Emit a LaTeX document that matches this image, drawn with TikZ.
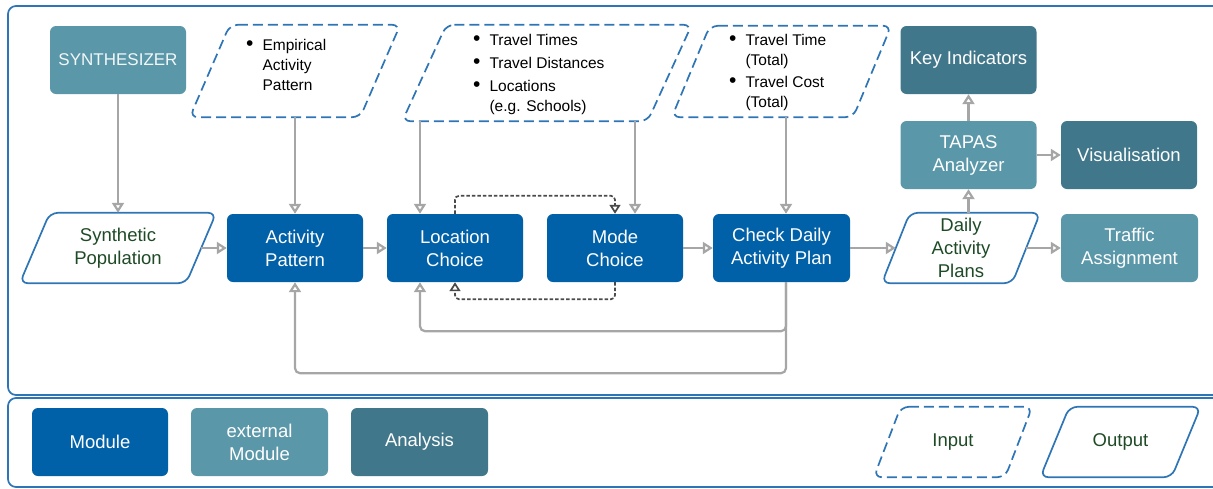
\documentclass[tikz,border=0pt]{standalone}
\usepackage{fontspec}
\setmainfont{Liberation Sans}
\usetikzlibrary{arrows.meta,calc}

\definecolor{modblue}{HTML}{0060A8}
\definecolor{extteal}{HTML}{5A97A9}
\definecolor{anateal}{HTML}{41778A}
\definecolor{frameblue}{HTML}{2E75B6}
\definecolor{flowgray}{HTML}{A6A6A6}
\definecolor{loopgray}{HTML}{4A4A4A}
\definecolor{outgreen}{HTML}{1E4A26}

\newcommand\parashape[3]{%
  \draw[#3] ([xshift=#2]#1.north west) -- ([xshift=#2]#1.north east)
    -- ([xshift=-#2]#1.south east) -- ([xshift=-#2]#1.south west) -- cycle;}
\newcommand\bigdot{\raisebox{-0.5pt}{\fontsize{21}{20}\selectfont\textbullet}}

\tikzset{
  box/.style={rectangle, rounded corners=6pt, minimum width=136pt, minimum height=68pt,
    align=center, text=white, font=\fontsize{18.5}{23}\selectfont, inner sep=2pt},
  module/.style={box, fill=modblue},
  extmod/.style={box, fill=extteal},
  analysis/.style={box, fill=anateal},
  paraarea/.style={rectangle, inner sep=0pt, align=center},
  outtext/.style={paraarea, text=outgreen, font=\fontsize{18.5}{23}\selectfont},
  intext/.style={paraarea, text=black, font=\fontsize{15.5}{20}\selectfont},
  outline/.style={draw=frameblue, line width=1.7pt, rounded corners=8pt},
  inline/.style={draw=frameblue, line width=1.7pt, rounded corners=8pt, dash pattern=on 10pt off 5pt},
  flow/.style={draw=flowgray, line width=2.2pt, rounded corners=5pt,
    -{Triangle[open, length=10pt, width=12pt]}},
  loop/.style={draw=loopgray, line width=1.7pt, rounded corners=4pt, dash pattern=on 3.5pt off 2pt,
    -{Triangle[open, length=9pt, width=11pt]}},
  frame/.style={draw=frameblue, line width=1.7pt, rounded corners=8pt},
}

\begin{document}
\begin{tikzpicture}[x=1pt, y=-1pt]
\useasboundingbox (0,0) rectangle (1213,488);

% outer frames
\draw[frame] (8,6) rectangle (1240,395);
\draw[frame] (8,398) rectangle (1240,487);

% top row: external sources, inputs and analysis
\node[extmod, minimum width=136pt, font=\fontsize{17}{21}\selectfont, text=white!92!extteal] (synth) at (118,60) {SYNTHESIZER};

\node[intext, minimum width=170pt, minimum height=92pt] (emp) at (295,71) {};
\parashape{emp}{20pt}{inline}
\node[intext, anchor=north west] (emptxt) at (246,36)
  {\begin{tabular}{@{}l@{\hspace{9pt}}l@{}}\bigdot & Empirical\\ & Activity\\ & Pattern\end{tabular}};

\node[intext, minimum width=245pt, minimum height=96pt] (tt) at (547,73) {};
\parashape{tt}{22pt}{inline}
\node[intext, anchor=north west] (tttxt) at (473,31)
  {\begin{tabular}{@{}l@{\hspace{9pt}}l@{}}\bigdot & Travel Times\\[3pt]
   \bigdot & Travel Distances\\[3pt] \bigdot & Locations\\ & (e.g. Schools)\end{tabular}};

\node[intext, minimum width=181pt, minimum height=91pt] (tot) at (781.5,71.5) {};
\parashape{tot}{19pt}{inline}
\node[intext, anchor=north west] (tottxt) at (729,31)
  {\begin{tabular}{@{}l@{\hspace{9pt}}l@{}}\bigdot & Travel Time\\ & (Total)\\[2pt]
   \bigdot & Travel Cost\\ & (Total)\end{tabular}};

\node[analysis] (key) at (968.5,60) {Key Indicators};
\node[extmod] (tapas) at (968.5,155) {TAPAS\\Analyzer};
\node[analysis] (vis) at (1129,155) {Visualisation};

% main chain
\node[outtext, minimum width=166pt, minimum height=70pt] (synpop) at (118,248) {Synthetic\\Population};
\parashape{synpop}{15pt}{outline}
\node[module] (ap) at (295,248) {Activity\\Pattern};
\node[module] (loc) at (455,248) {Location\\Choice};
\node[module] (mode) at (615,248) {Mode\\Choice};
\node[module, minimum width=137pt] (chk) at (781.5,248) {Check Daily\\Activity Plan};
\node[outtext, minimum width=130pt, minimum height=70pt] (dap) at (961,248) {Daily\\Activity\\Plans};
\parashape{dap}{14pt}{outline}
\node[extmod, minimum width=137pt] (traffic) at (1129.5,248) {Traffic\\Assignment};

% data flow
\draw[flow] (synth.south) -- (synpop.north);
\draw[flow] (emp.south) -- (ap.north);
\draw[flow] ([xshift=-35pt]loc.north |- tt.south) -- ([xshift=-35pt]loc.north);
\draw[flow] ([xshift=20pt]mode.north |- tt.south) -- ([xshift=20pt]mode.north);
\draw[flow] ([xshift=4.5pt]chk.north |- tot.south) -- ([xshift=4.5pt]chk.north);
\draw[flow] (synpop.east) -- (ap.west);
\draw[flow] (ap.east) -- (loc.west);
\draw[flow] (mode.east) -- (chk.west);
\draw[flow] (chk.east) -- (dap.west);
\draw[flow] (dap.east) -- (traffic.west);
\draw[flow] (tapas.south |- dap.north) -- (tapas.south);
\draw[flow] (tapas.north) -- (key.south);
\draw[flow] (tapas.east) -- (vis.west);

% feedback loops
\coordinate (fb) at ([xshift=4.5pt]chk.south);
\draw[flow] (fb) -- ++(0,49) -| ([xshift=-35pt]loc.south);
\draw[flow] (fb) -- ++(0,91) -| (ap.south);

% iteration between location and mode choice
\draw[loop] (loc.north) -- ++(0,-18) -| (mode.north);
\draw[loop] (mode.south) -- ++(0,17) -| (loc.south);

% legend
\node[module, minimum width=136pt] (lmod) at (100,442) {Module};
\node[extmod, minimum width=137pt] (lext) at (259.5,442) {external\\Module};
\node[analysis, minimum width=137pt] (lana) at (419.5,442) {Analysis};
\node[outtext, minimum width=131pt, minimum height=70pt, text=outgreen] (lin) at (953,442) {Input};
\parashape{lin}{13.5pt}{inline}
\node[outtext, minimum width=131pt, minimum height=70pt] (lout) at (1120.5,442) {Output};
\parashape{lout}{14.5pt}{outline}
\end{tikzpicture}
\end{document}
